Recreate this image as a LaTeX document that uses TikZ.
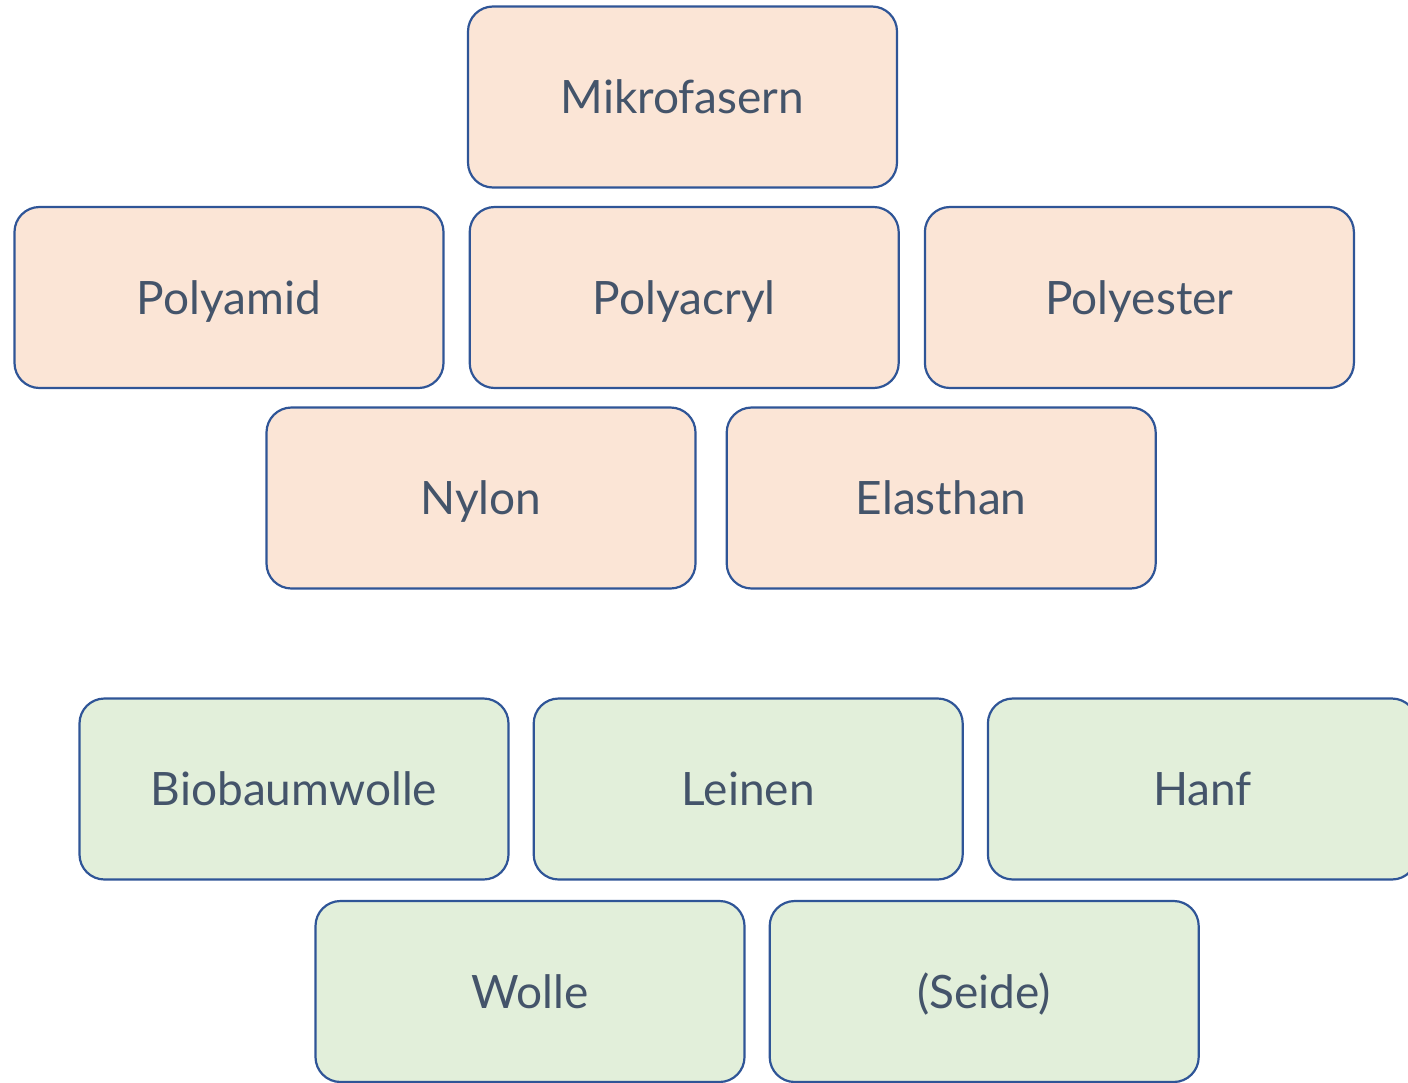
\documentclass[tikz,border=0pt]{standalone}
\usepackage{fontspec}
\setmainfont{Lato}
\usetikzlibrary{positioning}
\definecolor{bordure}{HTML}{2F5597}
\definecolor{peche}{HTML}{FBE5D6}
\definecolor{vert}{HTML}{E2EFDA}
\definecolor{texte}{HTML}{44546A}
\tikzstyle{boite}=[rectangle,rounded corners=12.5pt,draw=bordure,line width=1.1pt,minimum width=214.5pt,minimum height=90.5pt,text=texte,text height=18pt,text depth=1.4pt,font=\fontsize{23}{27}\selectfont]
\tikzstyle{synth}=[boite,fill=peche]
\tikzstyle{nat}=[boite,fill=vert]
\begin{document}
\begin{tikzpicture}[x=0.5pt,y=-0.5pt]
\useasboundingbox (0,0) rectangle (1408,1082);

\node[synth] (Mik) at (682.5,97) {Mikrofasern};
\node[synth] (Pam) at (229,297.5) {Polyamid};
\node[synth] (Pac) [right =12pt of Pam] {Polyacryl};
\node[synth] (Pes) [right =12pt of Pac] {Polyester};
\node[synth] (Nyl) at (481,498) {Nylon};
\node[synth] (Ela) [right =14.5pt of Nyl] {Elasthan};

\node[nat] (Bio) at (294,789) {Biobaumwolle};
\node[nat] (Lei) [right =11.5pt of Bio] {Leinen};
\node[nat] (Hanf) [right =11.5pt of Lei] {Hanf};
\node[nat] (Wol) at (530,991.5) {Wolle};
\node[nat] (Sei) [right =11.5pt of Wol] {(Seide)};

\end{tikzpicture}
\end{document}
